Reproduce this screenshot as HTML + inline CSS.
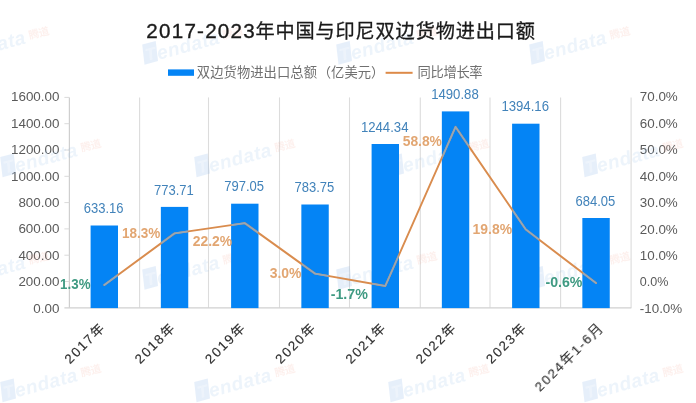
<!DOCTYPE html>
<html lang="zh-CN"><head><meta charset="utf-8">
<title>2017-2023年中国与印尼双边货物进出口额</title>
<style>
html,body{margin:0;padding:0;background:#fff;}
body{width:696px;height:403px;overflow:hidden;position:relative;font-family:"Liberation Sans", "Noto Sans CJK SC", sans-serif;}
svg{position:absolute;left:0;top:0;display:block;}
text{font-family:"Liberation Sans", "Noto Sans CJK SC", sans-serif;}
.ax{fill:#5a5a5a;font-size:13.4px;}
.val{fill:#4283ba;font-size:14.2px;}
.po{fill:#e2a672;font-size:14.2px;font-weight:bold;}
.pg{fill:#3f9a82;font-size:14.2px;font-weight:bold;}
.cat{fill:#303030;stroke:#303030;stroke-width:0.15px;font-size:13.3px;letter-spacing:1.7px;}
.lg{fill:#707070;font-size:13.3px;}
.wm{fill:#8fb8e6;fill-opacity:0.16;font-size:19px;font-style:italic;font-weight:bold;}
.wm2{fill:#f0a090;fill-opacity:0.16;font-size:10.5px;font-weight:bold;}
</style></head><body>
<svg width="696" height="403" viewBox="0 0 696 403">
<rect x="0" y="0" width="696" height="403" fill="#ffffff"/>
<line x1="139.60" y1="97.4" x2="139.60" y2="307.8" stroke="#dcdcdc" stroke-width="1.1"/>
<line x1="208.50" y1="97.4" x2="208.50" y2="307.8" stroke="#dcdcdc" stroke-width="1.1"/>
<line x1="279.50" y1="97.4" x2="279.50" y2="307.8" stroke="#dcdcdc" stroke-width="1.1"/>
<line x1="349.50" y1="97.4" x2="349.50" y2="307.8" stroke="#dcdcdc" stroke-width="1.1"/>
<line x1="420.30" y1="97.4" x2="420.30" y2="307.8" stroke="#dcdcdc" stroke-width="1.1"/>
<line x1="490.00" y1="97.4" x2="490.00" y2="307.8" stroke="#dcdcdc" stroke-width="1.1"/>
<line x1="560.60" y1="97.4" x2="560.60" y2="307.8" stroke="#dcdcdc" stroke-width="1.1"/>
<line x1="69.40" y1="97.4" x2="69.40" y2="307.8" stroke="#cfcfcf" stroke-width="1.2"/>
<line x1="631.10" y1="97.4" x2="631.10" y2="307.8" stroke="#dcdcdc" stroke-width="1.1"/>
<line x1="64.40" y1="307.8" x2="631.40" y2="307.8" stroke="#d0d0d0" stroke-width="1.3"/>
<text class="ax" x="59.4" y="312.72" text-anchor="end">0.00</text>
<line x1="64.40" y1="281.50" x2="69.40" y2="281.50" stroke="#dadada" stroke-width="1"/>
<text class="ax" x="59.4" y="286.28" text-anchor="end">200.00</text>
<line x1="64.40" y1="255.20" x2="69.40" y2="255.20" stroke="#dadada" stroke-width="1"/>
<text class="ax" x="59.4" y="259.84" text-anchor="end">400.00</text>
<line x1="64.40" y1="228.90" x2="69.40" y2="228.90" stroke="#dadada" stroke-width="1"/>
<text class="ax" x="59.4" y="233.40" text-anchor="end">600.00</text>
<line x1="64.40" y1="202.60" x2="69.40" y2="202.60" stroke="#dadada" stroke-width="1"/>
<text class="ax" x="59.4" y="206.96" text-anchor="end">800.00</text>
<line x1="64.40" y1="176.30" x2="69.40" y2="176.30" stroke="#dadada" stroke-width="1"/>
<text class="ax" x="59.4" y="180.52" text-anchor="end">1000.00</text>
<line x1="64.40" y1="150.00" x2="69.40" y2="150.00" stroke="#dadada" stroke-width="1"/>
<text class="ax" x="59.4" y="154.08" text-anchor="end">1200.00</text>
<line x1="64.40" y1="123.70" x2="69.40" y2="123.70" stroke="#dadada" stroke-width="1"/>
<text class="ax" x="59.4" y="127.64" text-anchor="end">1400.00</text>
<line x1="64.40" y1="97.40" x2="69.40" y2="97.40" stroke="#dadada" stroke-width="1"/>
<text class="ax" x="59.4" y="101.20" text-anchor="end">1600.00</text>
<text class="ax" x="639.8" y="312.82">-10.0%</text>
<text class="ax" x="639.8" y="286.38" textLength="28.6" lengthAdjust="spacingAndGlyphs">0.0%</text>
<text class="ax" x="639.8" y="259.94">10.0%</text>
<text class="ax" x="639.8" y="233.50">20.0%</text>
<text class="ax" x="639.8" y="207.06">30.0%</text>
<text class="ax" x="639.8" y="180.62">40.0%</text>
<text class="ax" x="639.8" y="154.18">50.0%</text>
<text class="ax" x="639.8" y="127.74">60.0%</text>
<text class="ax" x="639.8" y="101.30">70.0%</text>
<filter id="wb" x="-5%" y="-5%" width="110%" height="110%"><feGaussianBlur stdDeviation="0.7"/></filter>
<g filter="url(#wb)"><g transform="translate(-49.5,64.7) rotate(-15)"><path d="M3 -20 L17 -20 L14 0 L0 0 Z" fill="#8fb8e6" fill-opacity="0.22"/><text x="3.5" y="-3" font-size="17" font-style="italic" font-weight="bold" fill="#ffffff" fill-opacity="0.3">T</text><text class="wm" x="15" y="-1" textLength="64" lengthAdjust="spacing">endata</text><text class="wm2" x="83" y="-4">腾道</text></g><g transform="translate(144.5,64.7) rotate(-15)"><path d="M3 -20 L17 -20 L14 0 L0 0 Z" fill="#8fb8e6" fill-opacity="0.22"/><text x="3.5" y="-3" font-size="17" font-style="italic" font-weight="bold" fill="#ffffff" fill-opacity="0.3">T</text><text class="wm" x="15" y="-1" textLength="64" lengthAdjust="spacing">endata</text><text class="wm2" x="83" y="-4">腾道</text></g><g transform="translate(338.5,64.7) rotate(-15)"><path d="M3 -20 L17 -20 L14 0 L0 0 Z" fill="#8fb8e6" fill-opacity="0.22"/><text x="3.5" y="-3" font-size="17" font-style="italic" font-weight="bold" fill="#ffffff" fill-opacity="0.3">T</text><text class="wm" x="15" y="-1" textLength="64" lengthAdjust="spacing">endata</text><text class="wm2" x="83" y="-4">腾道</text></g><g transform="translate(531.5,64.7) rotate(-15)"><path d="M3 -20 L17 -20 L14 0 L0 0 Z" fill="#8fb8e6" fill-opacity="0.22"/><text x="3.5" y="-3" font-size="17" font-style="italic" font-weight="bold" fill="#ffffff" fill-opacity="0.3">T</text><text class="wm" x="15" y="-1" textLength="64" lengthAdjust="spacing">endata</text><text class="wm2" x="83" y="-4">腾道</text></g><g transform="translate(2.5,177.2) rotate(-15)"><path d="M3 -20 L17 -20 L14 0 L0 0 Z" fill="#8fb8e6" fill-opacity="0.22"/><text x="3.5" y="-3" font-size="17" font-style="italic" font-weight="bold" fill="#ffffff" fill-opacity="0.3">T</text><text class="wm" x="15" y="-1" textLength="64" lengthAdjust="spacing">endata</text><text class="wm2" x="83" y="-4">腾道</text></g><g transform="translate(196.5,177.2) rotate(-15)"><path d="M3 -20 L17 -20 L14 0 L0 0 Z" fill="#8fb8e6" fill-opacity="0.22"/><text x="3.5" y="-3" font-size="17" font-style="italic" font-weight="bold" fill="#ffffff" fill-opacity="0.3">T</text><text class="wm" x="15" y="-1" textLength="64" lengthAdjust="spacing">endata</text><text class="wm2" x="83" y="-4">腾道</text></g><g transform="translate(390.5,177.2) rotate(-15)"><path d="M3 -20 L17 -20 L14 0 L0 0 Z" fill="#8fb8e6" fill-opacity="0.22"/><text x="3.5" y="-3" font-size="17" font-style="italic" font-weight="bold" fill="#ffffff" fill-opacity="0.3">T</text><text class="wm" x="15" y="-1" textLength="64" lengthAdjust="spacing">endata</text><text class="wm2" x="83" y="-4">腾道</text></g><g transform="translate(584.5,177.2) rotate(-15)"><path d="M3 -20 L17 -20 L14 0 L0 0 Z" fill="#8fb8e6" fill-opacity="0.22"/><text x="3.5" y="-3" font-size="17" font-style="italic" font-weight="bold" fill="#ffffff" fill-opacity="0.3">T</text><text class="wm" x="15" y="-1" textLength="64" lengthAdjust="spacing">endata</text><text class="wm2" x="83" y="-4">腾道</text></g><g transform="translate(-49.5,289.7) rotate(-15)"><path d="M3 -20 L17 -20 L14 0 L0 0 Z" fill="#8fb8e6" fill-opacity="0.22"/><text x="3.5" y="-3" font-size="17" font-style="italic" font-weight="bold" fill="#ffffff" fill-opacity="0.3">T</text><text class="wm" x="15" y="-1" textLength="64" lengthAdjust="spacing">endata</text><text class="wm2" x="83" y="-4">腾道</text></g><g transform="translate(144.5,289.7) rotate(-15)"><path d="M3 -20 L17 -20 L14 0 L0 0 Z" fill="#8fb8e6" fill-opacity="0.22"/><text x="3.5" y="-3" font-size="17" font-style="italic" font-weight="bold" fill="#ffffff" fill-opacity="0.3">T</text><text class="wm" x="15" y="-1" textLength="64" lengthAdjust="spacing">endata</text><text class="wm2" x="83" y="-4">腾道</text></g><g transform="translate(338.5,289.7) rotate(-15)"><path d="M3 -20 L17 -20 L14 0 L0 0 Z" fill="#8fb8e6" fill-opacity="0.22"/><text x="3.5" y="-3" font-size="17" font-style="italic" font-weight="bold" fill="#ffffff" fill-opacity="0.3">T</text><text class="wm" x="15" y="-1" textLength="64" lengthAdjust="spacing">endata</text><text class="wm2" x="83" y="-4">腾道</text></g><g transform="translate(531.5,289.7) rotate(-15)"><path d="M3 -20 L17 -20 L14 0 L0 0 Z" fill="#8fb8e6" fill-opacity="0.22"/><text x="3.5" y="-3" font-size="17" font-style="italic" font-weight="bold" fill="#ffffff" fill-opacity="0.3">T</text><text class="wm" x="15" y="-1" textLength="64" lengthAdjust="spacing">endata</text><text class="wm2" x="83" y="-4">腾道</text></g><g transform="translate(2.5,402.2) rotate(-15)"><path d="M3 -20 L17 -20 L14 0 L0 0 Z" fill="#8fb8e6" fill-opacity="0.22"/><text x="3.5" y="-3" font-size="17" font-style="italic" font-weight="bold" fill="#ffffff" fill-opacity="0.3">T</text><text class="wm" x="15" y="-1" textLength="64" lengthAdjust="spacing">endata</text><text class="wm2" x="83" y="-4">腾道</text></g><g transform="translate(196.5,402.2) rotate(-15)"><path d="M3 -20 L17 -20 L14 0 L0 0 Z" fill="#8fb8e6" fill-opacity="0.22"/><text x="3.5" y="-3" font-size="17" font-style="italic" font-weight="bold" fill="#ffffff" fill-opacity="0.3">T</text><text class="wm" x="15" y="-1" textLength="64" lengthAdjust="spacing">endata</text><text class="wm2" x="83" y="-4">腾道</text></g><g transform="translate(390.5,402.2) rotate(-15)"><path d="M3 -20 L17 -20 L14 0 L0 0 Z" fill="#8fb8e6" fill-opacity="0.22"/><text x="3.5" y="-3" font-size="17" font-style="italic" font-weight="bold" fill="#ffffff" fill-opacity="0.3">T</text><text class="wm" x="15" y="-1" textLength="64" lengthAdjust="spacing">endata</text><text class="wm2" x="83" y="-4">腾道</text></g><g transform="translate(584.5,402.2) rotate(-15)"><path d="M3 -20 L17 -20 L14 0 L0 0 Z" fill="#8fb8e6" fill-opacity="0.22"/><text x="3.5" y="-3" font-size="17" font-style="italic" font-weight="bold" fill="#ffffff" fill-opacity="0.3">T</text><text class="wm" x="15" y="-1" textLength="64" lengthAdjust="spacing">endata</text><text class="wm2" x="83" y="-4">腾道</text></g></g>
<rect x="90.60" y="225.50" width="27.40" height="82.60" fill="#0484f5"/>
<rect x="160.85" y="206.90" width="27.40" height="101.20" fill="#0484f5"/>
<rect x="231.10" y="203.70" width="27.40" height="104.40" fill="#0484f5"/>
<rect x="301.35" y="204.50" width="27.40" height="103.60" fill="#0484f5"/>
<rect x="371.60" y="144.00" width="27.40" height="164.10" fill="#0484f5"/>
<rect x="441.85" y="111.40" width="27.40" height="196.70" fill="#0484f5"/>
<rect x="512.10" y="123.70" width="27.40" height="184.40" fill="#0484f5"/>
<rect x="582.35" y="218.00" width="27.40" height="90.10" fill="#0484f5"/>
<path d="M104.30 285.00 L174.55 233.37 L244.80 223.11 L315.05 273.61 L385.30 285.97 L455.55 126.86 L525.80 229.43 L596.05 283.08" fill="none" stroke="#d98c4e" stroke-width="1.9" stroke-linejoin="round" stroke-linecap="round"/>
<clipPath id="bc">
<rect x="91.10" y="90" width="26.40" height="220"/>
<rect x="161.35" y="90" width="26.40" height="220"/>
<rect x="231.60" y="90" width="26.40" height="220"/>
<rect x="301.85" y="90" width="26.40" height="220"/>
<rect x="372.10" y="90" width="26.40" height="220"/>
<rect x="442.35" y="90" width="26.40" height="220"/>
<rect x="512.60" y="90" width="26.40" height="220"/>
<rect x="582.85" y="90" width="26.40" height="220"/>
</clipPath>
<path d="M104.30 285.00 L174.55 233.37 L244.80 223.11 L315.05 273.61 L385.30 285.97 L455.55 126.86 L525.80 229.43 L596.05 283.08" fill="none" stroke="#93a7ba" stroke-width="1.7" stroke-linejoin="round" stroke-linecap="round" clip-path="url(#bc)"/>
<text class="val" x="103.70" y="213.20" text-anchor="middle" textLength="39.8" lengthAdjust="spacingAndGlyphs">633.16</text>
<text class="val" x="173.95" y="194.60" text-anchor="middle" textLength="39.8" lengthAdjust="spacingAndGlyphs">773.71</text>
<text class="val" x="244.20" y="191.40" text-anchor="middle" textLength="39.8" lengthAdjust="spacingAndGlyphs">797.05</text>
<text class="val" x="314.45" y="192.20" text-anchor="middle" textLength="39.8" lengthAdjust="spacingAndGlyphs">783.75</text>
<text class="val" x="384.70" y="131.70" text-anchor="middle" textLength="47.6" lengthAdjust="spacingAndGlyphs">1244.34</text>
<text class="val" x="454.95" y="99.10" text-anchor="middle" textLength="47.6" lengthAdjust="spacingAndGlyphs">1490.88</text>
<text class="val" x="525.20" y="111.40" text-anchor="middle" textLength="47.6" lengthAdjust="spacingAndGlyphs">1394.16</text>
<text class="val" x="595.45" y="205.70" text-anchor="middle" textLength="39.8" lengthAdjust="spacingAndGlyphs">684.05</text>
<text class="pg" x="60.10" y="288.90" textLength="30.4" lengthAdjust="spacingAndGlyphs">1.3%</text>
<text class="po" x="121.90" y="238.20" textLength="38.4" lengthAdjust="spacingAndGlyphs">18.3%</text>
<text class="po" x="192.80" y="246.40" textLength="39.4" lengthAdjust="spacingAndGlyphs">22.2%</text>
<text class="po" x="269.70" y="278.40" textLength="31.8" lengthAdjust="spacingAndGlyphs">3.0%</text>
<text class="pg" x="330.70" y="298.80" textLength="37.2" lengthAdjust="spacingAndGlyphs">-1.7%</text>
<text class="po" x="402.70" y="145.60" textLength="39.2" lengthAdjust="spacingAndGlyphs">58.8%</text>
<text class="po" x="472.60" y="233.80" textLength="39.5" lengthAdjust="spacingAndGlyphs">19.8%</text>
<text class="pg" x="545.50" y="287.30" textLength="36.9" lengthAdjust="spacingAndGlyphs">-0.6%</text>
<text class="cat" transform="translate(106.30,328.10) rotate(-45)" text-anchor="end">2017年</text>
<text class="cat" transform="translate(176.55,328.10) rotate(-45)" text-anchor="end">2018年</text>
<text class="cat" transform="translate(246.80,328.10) rotate(-45)" text-anchor="end">2019年</text>
<text class="cat" transform="translate(317.05,328.10) rotate(-45)" text-anchor="end">2020年</text>
<text class="cat" transform="translate(387.30,328.10) rotate(-45)" text-anchor="end">2021年</text>
<text class="cat" transform="translate(457.55,328.10) rotate(-45)" text-anchor="end">2022年</text>
<text class="cat" transform="translate(527.80,328.10) rotate(-45)" text-anchor="end">2023年</text>
<text class="cat" transform="translate(604.25,328.10) rotate(-45)" text-anchor="end">2024年1-6月</text>
<rect x="168" y="69.4" width="26" height="6.4" fill="#0484f5"/>
<text class="lg" x="196.8" y="77.2" textLength="120.2" lengthAdjust="spacing">双边货物进出口总额</text>
<text class="lg" x="317.8" y="77.2">（亿美元）</text>
<line x1="385.6" y1="72.8" x2="412.6" y2="72.8" stroke="#dd8a48" stroke-width="2"/>
<text class="lg" x="417.6" y="77.2" textLength="65" lengthAdjust="spacing">同比增长率</text>
<text x="146.3" y="37.8" fill="#1a1a1a" stroke="#1a1a1a" stroke-width="0.35" font-size="20.6" textLength="108.4" lengthAdjust="spacing">2017-2023</text>
<text x="255.4" y="37.8" fill="#1a1a1a" stroke="#1a1a1a" stroke-width="0.3" font-size="19.2" textLength="279.6" lengthAdjust="spacing">年中国与印尼双边货物进出口额</text>
</svg>
</body></html>
